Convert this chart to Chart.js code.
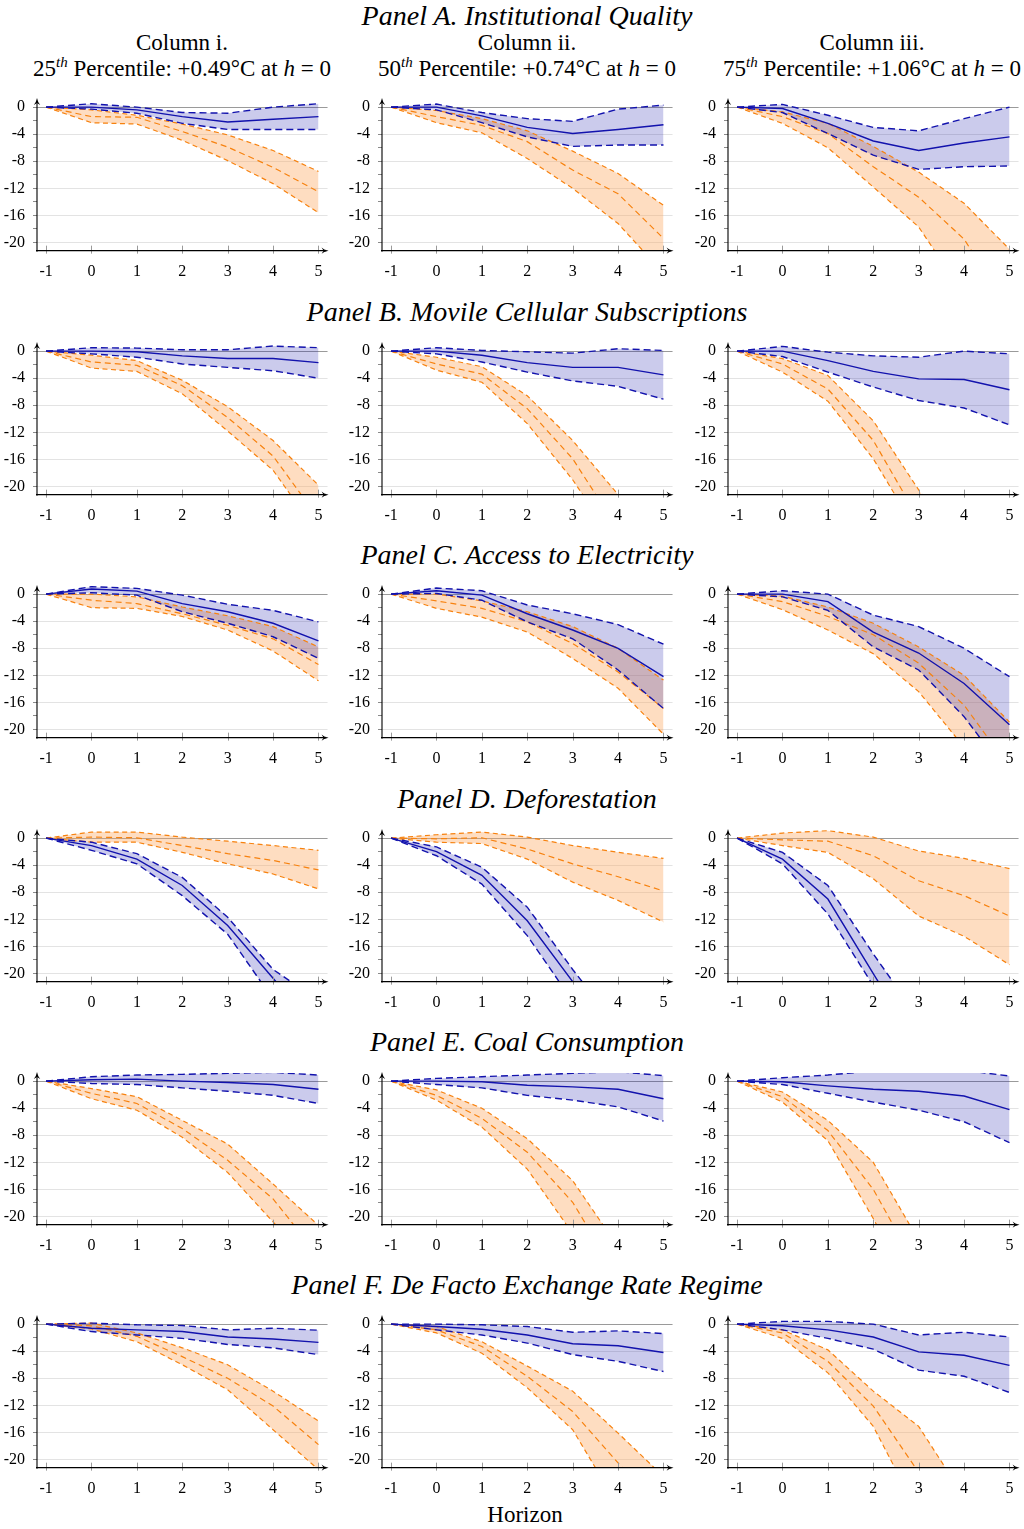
<!DOCTYPE html>
<html>
<head>
<meta charset="utf-8">
<script src="https://cdn.jsdelivr.net/npm/chart.js@4.4.1/dist/chart.umd.min.js"></script>
<style>
  body { margin: 0; background: #fff; width: 1024px; height: 1529px; overflow: hidden; position: relative; font-family: "Liberation Serif", serif; }
  .txt { position: absolute; transform: translate(-50%, -50%); white-space: nowrap; color: #000; }
  .ptitle { font-style: italic; font-size: 28px; }
  .chead { font-size: 23px; }
  canvas { position: absolute; }
</style>
</head>
<body>
<div id="wrap"></div>
<script>
// horizons and ticks
const horizons = [-1, 0, 1, 2, 3, 4, 5];
const yTicks = [-20, -18, -16, -14, -12, -10, -8, -6, -4, -2, 0];

// Panel A. Institutional Quality
const A1_blueLow  = [0, -0.3, -0.9, -2.4, -3.3, -3.3, -3.3];
const A1_blueMid  = [0, 0, -0.4, -1.4, -2.2, -1.8, -1.4];
const A1_blueHigh = [0, 0.5, 0, -0.8, -0.9, 0, 0.5];
const A1_orgLow   = [0, -2.3, -2.5, -4.9, -7.9, -11.3, -15.6];
const A1_orgMid   = [0, -1.4, -1.5, -3.6, -5.9, -8.9, -12.5];
const A1_orgHigh  = [0, -0.4, -1.2, -2.5, -4.1, -6.4, -9.5];

const A2_blueLow  = [0, -0.4, -2.3, -4.4, -5.8, -5.6, -5.6];
const A2_blueMid  = [0, 0, -1.3, -3.0, -3.9, -3.3, -2.6];
const A2_blueHigh = [0, 0.45, -0.8, -1.7, -2.1, -0.3, 0.3];
const A2_orgLow   = [0, -2.3, -3.8, -7.6, -12.0, -17.2, -24.5];
const A2_orgMid   = [0, -1.4, -2.7, -5.1, -9.3, -12.8, -19.4];
const A2_orgHigh  = [0, -0.5, -1.7, -3.5, -6.5, -9.8, -14.5];

const A3_blueLow  = [0, -0.8, -3.9, -7.1, -9.2, -8.8, -8.7];
const A3_blueMid  = [0, -0.2, -2.4, -5.0, -6.4, -5.3, -4.4];
const A3_blueHigh = [0, 0.4, -1.2, -3.0, -3.5, -1.7, 0];
const A3_orgLow   = [0, -2.4, -6.0, -11.8, -17.7, -27.7, -38];
const A3_orgMid   = [0, -1.4, -3.9, -8.8, -13.3, -19.5, -30];
const A3_orgHigh  = [0, -0.7, -2.4, -5.8, -9.6, -14.2, -21.0];

// Panel B. Movile Cellular Subscriptions
const B1_blueLow  = [0, -0.4, -0.9, -1.9, -2.4, -2.9, -4.0];
const B1_blueMid  = [0, 0, -0.1, -0.7, -1.1, -1.1, -1.7];
const B1_blueHigh = [0, 0.5, 0.45, 0.2, 0.2, 0.75, 0.5];
const B1_orgLow   = [0, -2.5, -3.0, -6.3, -11.8, -17.6, -27];
const B1_orgMid   = [0, -1.6, -2.1, -5.1, -9.8, -15.5, -24.7];
const B1_orgHigh  = [0, -0.6, -1.4, -4.3, -8.2, -13.2, -19.8];

const B2_blueLow  = [0, -0.4, -1.6, -3.1, -4.4, -5.2, -7.1];
const B2_blueMid  = [0, 0, -0.6, -1.7, -2.4, -2.4, -3.5];
const B2_blueHigh = [0, 0.5, 0.1, -0.1, -0.3, 0.35, 0.1];
const B2_orgLow   = [0, -2.8, -4.6, -10.7, -19.0, -29, -39];
const B2_orgMid   = [0, -1.9, -3.4, -8.5, -15.9, -26.3, -36];
const B2_orgHigh  = [0, -0.9, -2.3, -6.6, -13.2, -21.2, -28];

const B3_blueLow  = [0, -0.8, -3.1, -5.3, -7.3, -8.4, -10.9];
const B3_blueMid  = [0, 0, -1.4, -3.0, -4.1, -4.2, -5.7];
const B3_blueHigh = [0, 0.7, -0.15, -0.7, -0.9, 0, -0.4];
const B3_orgLow   = [0, -3.1, -7.4, -15.9, -27, -38, -50];
const B3_orgMid   = [0, -1.9, -5.6, -13.2, -24.8, -36, -48];
const B3_orgHigh  = [0, -1.1, -3.6, -10.3, -20.5, -30, -40];

// Panel C. Access to Electricity
const C1_blueLow  = [0, 0.2, -0.15, -2.6, -4.3, -6.3, -9.5];
const C1_blueMid  = [0, 0.75, 0.45, -1.4, -2.6, -4.3, -6.9];
const C1_blueHigh = [0, 1.1, 0.85, -0.15, -1.5, -2.4, -4.1];
const C1_orgLow   = [0, -2.0, -2.1, -3.3, -5.3, -8.4, -12.8];
const C1_orgMid   = [0, -0.9, -1.4, -2.9, -4.6, -6.6, -10.4];
const C1_orgHigh  = [0, 0, -0.4, -1.9, -3.2, -4.8, -7.8];

const C2_blueLow  = [0, 0.1, -0.9, -4.1, -6.6, -11.2, -16.9];
const C2_blueMid  = [0, 0.5, -0.15, -2.9, -5.3, -8.0, -12.2];
const C2_blueHigh = [0, 0.9, 0.5, -1.6, -2.9, -4.5, -7.4];
const C2_orgLow   = [0, -2.1, -3.4, -5.6, -9.5, -13.9, -20.7];
const C2_orgMid   = [0, -1.0, -2.1, -4.1, -7.3, -11.5, -16.9];
const C2_orgHigh  = [0, 0, -1.0, -2.6, -4.8, -8.0, -12.7];

const C3_blueLow  = [0, -0.4, -2.4, -7.8, -11.2, -18.1, -27];
const C3_blueMid  = [0, 0, -1.1, -5.6, -8.7, -13.2, -19.3];
const C3_blueHigh = [0, 0.5, 0, -3.1, -4.8, -8.0, -12.2];
const C3_orgLow   = [0, -2.3, -5.3, -8.8, -14.4, -22.6, -31];
const C3_orgMid   = [0, -1.1, -3.3, -6.0, -10.2, -16.4, -25.6];
const C3_orgHigh  = [0, -0.3, -1.9, -4.3, -7.8, -12.0, -18.9];

// Panel D. Deforestation
const D1_blueLow  = [0, -1.8, -3.8, -8.5, -14.2, -23.8, -33];
const D1_blueMid  = [0, -1.1, -3.1, -7.0, -12.9, -20.7, -28.5];
const D1_blueHigh = [0, -0.6, -2.3, -5.8, -11.7, -19.4, -24];
const D1_orgLow   = [0, -0.6, -0.6, -2.1, -3.8, -5.3, -7.5];
const D1_orgMid   = [0, 0.15, 0.05, -1.1, -2.3, -3.3, -4.7];
const D1_orgHigh  = [0, 0.9, 0.9, 0.15, -0.45, -1.1, -1.8];

const D2_blueLow  = [0, -2.6, -6.8, -14.4, -24.1, -34, -44];
const D2_blueMid  = [0, -2.0, -5.5, -12.2, -21.2, -30, -39];
const D2_blueHigh = [0, -1.3, -4.3, -10.2, -19.4, -28, -37];
const D2_orgLow   = [0, -0.6, -0.8, -3.1, -6.5, -9.2, -12.4];
const D2_orgMid   = [0, -0.1, 0.05, -1.6, -3.8, -5.7, -7.8];
const D2_orgHigh  = [0, 0.5, 0.9, 0.15, -1.1, -2.1, -3.0];

const D3_blueLow  = [0, -3.8, -11.2, -21.8, -33, -44, -55];
const D3_blueMid  = [0, -3.1, -9.0, -20.0, -31, -42, -53];
const D3_blueHigh = [0, -2.1, -7.0, -17.1, -26.6, -36, -46];
const D3_orgLow   = [0, -1.1, -2.1, -6.0, -11.5, -14.5, -18.7];
const D3_orgMid   = [0, -0.25, -0.45, -2.6, -6.3, -8.5, -11.5];
const D3_orgHigh  = [0, 0.75, 1.1, 0.15, -1.9, -3.0, -4.5];

// Panel E. Coal Consumption
const E1_blueLow  = [0, -0.35, -0.5, -1.0, -1.5, -2.1, -3.3];
const E1_blueMid  = [0, 0.2, 0.3, 0, -0.2, -0.5, -1.2];
const E1_blueHigh = [0, 0.65, 0.9, 1.0, 1.15, 1.3, 0.9];
const E1_orgLow   = [0, -2.6, -4.3, -8.3, -13.5, -20.8, -28];
const E1_orgMid   = [0, -1.8, -3.3, -7.0, -11.7, -17.4, -25.8];
const E1_orgHigh  = [0, -1.1, -2.3, -5.8, -9.3, -15.2, -21.3];

const E2_blueLow  = [0, -0.5, -1.0, -2.1, -2.8, -3.8, -5.9];
const E2_blueMid  = [0, 0, -0.1, -0.6, -0.85, -1.2, -2.6];
const E2_blueHigh = [0, 0.4, 0.65, 0.9, 1.15, 1.4, 0.8];
const E2_orgLow   = [0, -2.8, -6.8, -13.0, -22.5, -32, -42];
const E2_orgMid   = [0, -2.1, -5.5, -10.5, -17.9, -29, -40];
const E2_orgHigh  = [0, -1.3, -4.0, -8.5, -14.7, -24.5, -34];

const E3_blueLow  = [0, -0.5, -1.8, -3.1, -4.3, -6.0, -9.1];
const E3_blueMid  = [0, -0.1, -0.7, -1.2, -1.5, -2.2, -4.2];
const E3_blueHigh = [0, 0.5, 0.9, 1.5, 1.8, 1.6, 0.75];
const E3_orgLow   = [0, -3.1, -8.8, -20.3, -33, -46, -59];
const E3_orgMid   = [0, -2.3, -7.3, -16.0, -28, -40, -52];
const E3_orgHigh  = [0, -1.6, -5.8, -12.0, -23.5, -35, -46];

// Panel F. De Facto Exchange Rate Regime
const F1_blueLow  = [0, -1.1, -1.6, -2.1, -3.0, -3.5, -4.5];
const F1_blueMid  = [0, -0.6, -0.85, -1.1, -1.9, -2.2, -2.7];
const F1_blueHigh = [0, 0.15, -0.1, -0.2, -0.85, -0.6, -0.9];
const F1_orgLow   = [0, -0.7, -2.6, -6.0, -9.7, -15.6, -21.5];
const F1_orgMid   = [0, -0.25, -1.8, -4.8, -8.0, -12.1, -17.8];
const F1_orgHigh  = [0, 0.15, -1.3, -3.5, -6.0, -9.9, -14.3];

const F2_blueLow  = [0, -0.85, -1.6, -2.8, -4.5, -5.5, -7.0];
const F2_blueMid  = [0, -0.35, -0.75, -1.6, -2.9, -3.2, -4.2];
const F2_blueHigh = [0, 0, -0.1, -0.35, -1.2, -1.0, -1.4];
const F2_orgLow   = [0, -1.3, -4.3, -9.4, -15.6, -26.8, -37];
const F2_orgMid   = [0, -0.85, -3.3, -7.7, -12.9, -20.5, -28];
const F2_orgHigh  = [0, -0.35, -2.6, -6.2, -9.9, -16.1, -22.5];

const F3_blueLow  = [0, -0.85, -2.1, -3.7, -6.8, -7.7, -10.1];
const F3_blueMid  = [0, -0.25, -0.85, -1.9, -4.1, -4.6, -6.1];
const F3_blueHigh = [0, 0.4, 0.4, 0, -1.6, -1.2, -1.9];
const F3_orgLow   = [0, -2.1, -7.2, -15.1, -28, -40, -52];
const F3_orgMid   = [0, -1.3, -5.5, -12.1, -21.9, -32, -42];
const F3_orgHigh  = [0, -0.85, -3.8, -9.9, -15.1, -25.5, -36];

const panelTitles = [
  "Panel A. Institutional Quality",
  "Panel B. Movile Cellular Subscriptions",
  "Panel C. Access to Electricity",
  "Panel D. Deforestation",
  "Panel E. Coal Consumption",
  "Panel F. De Facto Exchange Rate Regime"
];
const columnNames = ["Column i.", "Column ii.", "Column iii."];
const columnPct = ["25", "50", "75"];
const columnTemp = ["+0.49", "+0.74", "+1.06"];

const grid = [
  [[A1_blueLow, A1_blueMid, A1_blueHigh, A1_orgLow, A1_orgMid, A1_orgHigh],
   [A2_blueLow, A2_blueMid, A2_blueHigh, A2_orgLow, A2_orgMid, A2_orgHigh],
   [A3_blueLow, A3_blueMid, A3_blueHigh, A3_orgLow, A3_orgMid, A3_orgHigh]],
  [[B1_blueLow, B1_blueMid, B1_blueHigh, B1_orgLow, B1_orgMid, B1_orgHigh],
   [B2_blueLow, B2_blueMid, B2_blueHigh, B2_orgLow, B2_orgMid, B2_orgHigh],
   [B3_blueLow, B3_blueMid, B3_blueHigh, B3_orgLow, B3_orgMid, B3_orgHigh]],
  [[C1_blueLow, C1_blueMid, C1_blueHigh, C1_orgLow, C1_orgMid, C1_orgHigh],
   [C2_blueLow, C2_blueMid, C2_blueHigh, C2_orgLow, C2_orgMid, C2_orgHigh],
   [C3_blueLow, C3_blueMid, C3_blueHigh, C3_orgLow, C3_orgMid, C3_orgHigh]],
  [[D1_blueLow, D1_blueMid, D1_blueHigh, D1_orgLow, D1_orgMid, D1_orgHigh],
   [D2_blueLow, D2_blueMid, D2_blueHigh, D2_orgLow, D2_orgMid, D2_orgHigh],
   [D3_blueLow, D3_blueMid, D3_blueHigh, D3_orgLow, D3_orgMid, D3_orgHigh]],
  [[E1_blueLow, E1_blueMid, E1_blueHigh, E1_orgLow, E1_orgMid, E1_orgHigh],
   [E2_blueLow, E2_blueMid, E2_blueHigh, E2_orgLow, E2_orgMid, E2_orgHigh],
   [E3_blueLow, E3_blueMid, E3_blueHigh, E3_orgLow, E3_orgMid, E3_orgHigh]],
  [[F1_blueLow, F1_blueMid, F1_blueHigh, F1_orgLow, F1_orgMid, F1_orgHigh],
   [F2_blueLow, F2_blueMid, F2_blueHigh, F2_orgLow, F2_orgMid, F2_orgHigh],
   [F3_blueLow, F3_blueMid, F3_blueHigh, F3_orgLow, F3_orgMid, F3_orgHigh]]
];

// layout (pixels)
const Y_MIN = -21.2, Y_MAX = 1.2, X_MIN = -1.2, X_MAX = 5.2;
const PX_Y = 6.77;
const axisLeft = [37, 382.2, 727.7];
const zeroLine = [107, 350.7, 594, 837.7, 1081, 1324.3];
const Y_AXIS_W = 37, PAD_TOP = 6, CANVAS_W = 333, CANVAS_H = 192;
const AREA_H = (Y_MAX - Y_MIN) * PX_Y;
const AREA_W = (X_MAX - X_MIN) * 45.4;

const BLUE = "#1212ad", ORANGE = "#f7820f";
const BLUE_FILL = "rgba(20,20,170,0.22)", ORANGE_FILL = "rgba(253,170,100,0.4)";
const FONT = "'Liberation Serif', serif";

const wrap = document.getElementById("wrap");
function addText(html, x, y, cls, extra) {
  const d = document.createElement("div");
  d.className = "txt " + cls;
  d.innerHTML = html;
  d.style.left = x + "px";
  d.style.top = y + "px";
  if (extra) Object.assign(d.style, extra);
  wrap.appendChild(d);
}

// axis lines, arrows and x tick marks
const axesPlugin = {
  id: "axesArrows",
  afterDatasetsDraw(chart) {
    const { ctx, chartArea: a, scales: { x } } = chart;
    ctx.save();
    ctx.strokeStyle = "#9a9a9a";
    ctx.lineWidth = 1;
    horizons.forEach(h => {
      const px = Math.round(x.getPixelForValue(h)) + 0.5;
      ctx.beginPath();
      ctx.moveTo(px, a.bottom - 5);
      ctx.lineTo(px, a.bottom + 3);
      ctx.stroke();
    });
    ctx.strokeStyle = "#000";
    ctx.fillStyle = "#000";
    ctx.lineWidth = 1.1;
    ctx.beginPath();
    ctx.moveTo(a.left, a.bottom + 1);
    ctx.lineTo(a.left, a.top + 2);
    ctx.moveTo(a.left - 1, a.bottom);
    ctx.lineTo(a.right - 2, a.bottom);
    ctx.stroke();
    // arrowheads
    ctx.beginPath();
    ctx.moveTo(a.left, a.top - 1);
    ctx.quadraticCurveTo(a.left + 1, a.top + 4, a.left + 3.2, a.top + 6);
    ctx.lineTo(a.left, a.top + 4);
    ctx.lineTo(a.left - 3.2, a.top + 6);
    ctx.quadraticCurveTo(a.left - 1, a.top + 4, a.left, a.top - 1);
    ctx.fill();
    ctx.beginPath();
    ctx.moveTo(a.right + 1, a.bottom);
    ctx.quadraticCurveTo(a.right - 4, a.bottom + 1, a.right - 6, a.bottom + 3.2);
    ctx.lineTo(a.right - 4, a.bottom);
    ctx.lineTo(a.right - 6, a.bottom - 3.2);
    ctx.quadraticCurveTo(a.right - 4, a.bottom - 1, a.right + 1, a.bottom);
    ctx.fill();
    ctx.restore();
  }
};

function lineSet(values, color, width, dash, fill, bg) {
  return {
    data: values.map((v, k) => ({ x: horizons[k], y: v })),
    borderColor: color,
    borderWidth: width,
    borderDash: dash,
    backgroundColor: bg || "rgba(0,0,0,0)",
    fill: fill,
    pointRadius: 0,
    tension: 0
  };
}

function makePanel(r, c) {
  const s = grid[r][c];
  const canvas = document.createElement("canvas");
  const left = axisLeft[c] - Y_AXIS_W;
  const top = zeroLine[r] - Y_MAX * PX_Y - PAD_TOP;
  canvas.width = CANVAS_W;
  canvas.height = CANVAS_H;
  canvas.style.left = left + "px";
  canvas.style.top = top + "px";
  canvas.style.width = CANVAS_W + "px";
  canvas.style.height = CANVAS_H + "px";
  wrap.appendChild(canvas);

  new Chart(canvas.getContext("2d"), {
    type: "line",
    data: {
      datasets: [
        lineSet(s[0], BLUE, 1.4, [7, 4], false),
        lineSet(s[2], BLUE, 1.4, [7, 4], "-1", BLUE_FILL),
        lineSet(s[1], BLUE, 1.4, [], false),
        lineSet(s[3], ORANGE, 1.2, [5, 3.5], false),
        lineSet(s[5], ORANGE, 1.2, [5, 3.5], "-1", ORANGE_FILL),
        lineSet(s[4], ORANGE, 1.2, [6, 4], false)
      ]
    },
    options: {
      responsive: false,
      animation: false,
      devicePixelRatio: 1,
      layout: { padding: { top: PAD_TOP, right: CANVAS_W - Y_AXIS_W - AREA_W, left: 0, bottom: 0 } },
      plugins: {
        legend: { display: false },
        tooltip: { enabled: false },
        filler: { drawTime: "beforeDatasetsDraw" }
      },
      scales: {
        x: {
          type: "linear",
          min: X_MIN,
          max: X_MAX,
          afterBuildTicks: sc => { sc.ticks = horizons.map(v => ({ value: v })); },
          afterFit: sc => {
            sc.height = CANVAS_H - PAD_TOP - AREA_H;
            sc.paddingLeft = 0; sc.paddingRight = 0;
          },
          grid: { display: false, drawTicks: false },
          border: { display: false },
          ticks: { color: "#000", font: { family: FONT, size: 16 }, padding: 12, maxRotation: 0, autoSkip: false }
        },
        y: {
          min: Y_MIN,
          max: Y_MAX,
          afterBuildTicks: sc => { sc.ticks = yTicks.map(v => ({ value: v })); },
          afterFit: sc => {
            sc.width = Y_AXIS_W;
            sc.paddingTop = 0; sc.paddingBottom = 0;
          },
          grid: {
            color: ctx => ctx.tick.value === 0 ? "#9a9a9a" : (ctx.tick.value % 4 === 0 ? "#e3e3e3" : "rgba(0,0,0,0)"),
            tickColor: "#8a8a8a",
            tickLength: 4,
            lineWidth: 1
          },
          border: { display: false },
          ticks: {
            color: "#000",
            font: { family: FONT, size: 16 },
            padding: 8,
            autoSkip: false,
            callback: v => (v % 4 === 0 ? String(v) : "")
          }
        }
      }
    },
    plugins: [axesPlugin]
  });
}

// headings
addText(panelTitles[0], 527, 16, "ptitle");
for (let r = 1; r < 6; r++) addText(panelTitles[r], 527, zeroLine[r] - 39, "ptitle");
const colCenter = [182, 527, 872];
for (let c = 0; c < 3; c++) {
  addText(columnNames[c], colCenter[c], 43, "chead");
  addText(columnPct[c] + "<sup style='font-size:15px;font-style:italic;vertical-align:9px'>th</sup> Percentile: " +
    columnTemp[c] + "°C at <i>h</i> = 0", colCenter[c], 68, "chead");
}
addText("Horizon", 525, 1515, "chead");

for (let r = 0; r < 6; r++) {
  for (let c = 0; c < 3; c++) makePanel(r, c);
}
</script>
</body>
</html>
